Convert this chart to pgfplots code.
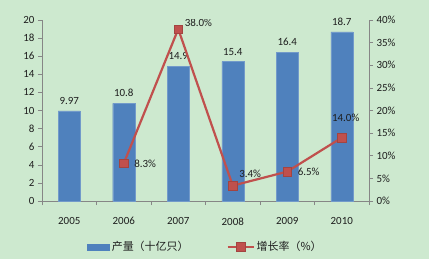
\documentclass[border=0pt]{standalone}
\usepackage{pgfplots}
\pgfplotsset{compat=1.18}
\usepackage{fontspec}
\setmainfont{Carlito}
\newfontfamily\cjk{Noto Sans CJK SC}
\definecolor{bg}{RGB}{205,233,207}
\definecolor{barblue}{RGB}{79,129,189}
\definecolor{linered}{RGB}{192,80,77}
\definecolor{axgray}{RGB}{134,134,134}
\definecolor{txt}{RGB}{30,30,30}
\begin{document}
\begin{tikzpicture}[x=1bp,y=1bp]
\fill[bg] (-42bp,-58bp) rectangle (387bp,201bp);
\begin{axis}[
  at={(0,0)}, anchor=south west,
  scale only axis, width=327bp, height=181bp,
  xmin=-0.5, xmax=5.5, ymin=0, ymax=20,
  axis y line*=left, axis x line*=bottom,
  axis line style={axgray, line width=0.6pt, -},
  xtick={0,...,5},
  xticklabels={2005,2006,2007,2008,2009,2010},
  major x tick style={draw=none},
  minor xtick={-0.5,0.5,1.5,2.5,3.5,4.5,5.5},
  minor tick length=4bp,
  minor x tick style={axgray, line width=0.6pt},
  ytick={0,2,...,20},
  major tick length=4bp,
  y tick style={axgray, line width=0.6pt},
  tick align=outside,
  tick label style={font=\fontsize{11}{13}\selectfont, text=txt},
  /pgf/number format/assume math mode=true,
  xticklabel style={yshift=-9bp},
  ybar, bar width=22bp,
  nodes near coords,
  point meta=explicit symbolic,
  nodes near coords style={font=\fontsize{11}{13}\selectfont, text=txt, yshift=3bp},
]
\addplot[fill=barblue, draw=barblue!80!white] coordinates {
 (0,9.97) [9.97] (1,10.8) [10.8] (2,14.9) [14.9] (3,15.4) [15.4] (4,16.4) [16.4] (5,18.7) [18.7]};
\end{axis}
\begin{axis}[
  at={(0,0)}, anchor=south west,
  scale only axis, width=327bp, height=181bp,
  xmin=-0.5, xmax=5.5, ymin=0, ymax=40,
  axis y line*=right, axis x line=none,
  axis line style={axgray, line width=0.6pt, -},
  ytick={0,5,...,40},
  yticklabel={\pgfmathprintnumber{\tick}\%},
  major tick length=4bp,
  y tick style={axgray, line width=0.6pt},
  tick align=outside,
  tick label style={font=\fontsize{11}{13}\selectfont, text=txt},
  /pgf/number format/assume math mode=true,
  legend columns=2,
  legend style={at={(0.5,-0.2)}, anchor=north, draw=none, fill=none,
    font=\cjk\fontsize{11}{13}\selectfont, text=txt,
    /tikz/every even column/.append style={column sep=36bp}},
  legend image code/.code={\draw[#1] (0bp,0bp) -- (26bp,0bp); \path[#1, mark repeat=1] plot coordinates {(13bp,0bp)};},
]
\addlegendimage{legend image code/.code={\fill[barblue] (0bp,-3bp) rectangle (22bp,3bp);}}
\addlegendentry{产量（十亿只）}
\addplot[linered, line width=2.2bp, mark=square*, mark size=4.2bp, mark options={fill=linered, draw=linered!85!black, line width=0.5pt}] coordinates {
 (1,8.3) (2,38.0) (3,3.4) (4,6.5) (5,14.0)};
\addlegendentry{增长率（\%）}
\node[anchor=west, font=\fontsize{11}{13}\selectfont, text=txt, xshift=7bp] at (axis cs:1,8.3) {8.3\%};
\node[anchor=south west, font=\fontsize{11}{13}\selectfont, text=txt, xshift=3bp, yshift=-1bp] at (axis cs:2,38.0) {38.0\%};
\node[anchor=south west, font=\fontsize{11}{13}\selectfont, text=txt, xshift=3bp, yshift=5bp] at (axis cs:3,3.4) {3.4\%};
\node[anchor=west, font=\fontsize{11}{13}\selectfont, text=txt, xshift=7bp] at (axis cs:4,6.5) {6.5\%};
\node[anchor=south, font=\fontsize{11}{13}\selectfont, text=txt, yshift=13bp, xshift=4bp] at (axis cs:5,14.0) {14.0\%};
\end{axis}
\end{tikzpicture}
\end{document}
